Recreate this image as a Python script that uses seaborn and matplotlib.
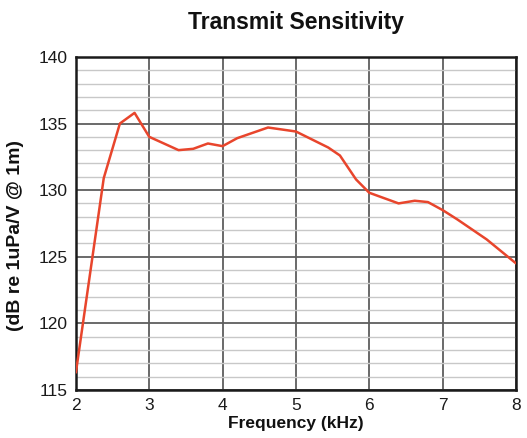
import numpy as np
import pandas as pd
import matplotlib
matplotlib.use("Agg")
import matplotlib.pyplot as plt
import seaborn as sns
from matplotlib.ticker import MultipleLocator

# Values
freq_khz = [2.0, 2.38, 2.6, 2.8, 3.0, 3.4, 3.6, 3.8, 4.0, 4.2, 4.62, 5.0,
            5.44, 5.6, 5.82, 6.0, 6.4, 6.62, 6.8, 7.0, 7.2, 7.6, 8.0]
sensitivity_db = [116.3, 130.9, 135.0, 135.8, 134.0, 133.0, 133.1, 133.5, 133.3,
                  133.9, 134.7, 134.4, 133.2, 132.6, 130.8, 129.8, 129.0, 129.2,
                  129.1, 128.5, 127.8, 126.3, 124.5]

df = pd.DataFrame({"Frequency": freq_khz, "Sensitivity": sensitivity_db})

sns.set_style("white")
plt.rcParams["font.family"] = ["Liberation Sans", "DejaVu Sans"]

fig = plt.figure(figsize=(5.27, 4.38), dpi=100)
ax = fig.add_axes([0.144, 0.110, 0.835, 0.760])

sns.lineplot(data=df, x="Frequency", y="Sensitivity", ax=ax,
             color="#e8452c", linewidth=1.8, zorder=5)

ax.set_xlim(2, 8)
ax.set_ylim(115, 140)
ax.xaxis.set_major_locator(MultipleLocator(1))
ax.yaxis.set_major_locator(MultipleLocator(5))
ax.yaxis.set_minor_locator(MultipleLocator(1))

# grid: dark major lines, light minor lines
ax.grid(which="major", axis="both", color="#5e5e5e", linewidth=1.3)
ax.grid(which="minor", axis="y", color="#c8c8c8", linewidth=1.0)
ax.set_axisbelow(True)

for side in ax.spines.values():
    side.set_color("#1a1a1a")
    side.set_linewidth(1.8)

ax.tick_params(axis="both", which="both", length=0, labelsize=12.5, pad=6, colors="#1a1a1a")

ax.set_xlabel("Frequency (kHz)", fontsize=12.5, fontweight="bold", labelpad=2, color="#111111")
ax.set_ylabel("(dB re 1uPa/V @ 1m)", fontsize=14, fontweight="bold", color="#111111")
ax.yaxis.set_label_coords(-0.118, 0.465)
ax.set_title("Transmit Sensitivity", fontsize=16.5, fontweight="bold", pad=20, color="#111111")

fig.savefig("out.png", dpi=100)
